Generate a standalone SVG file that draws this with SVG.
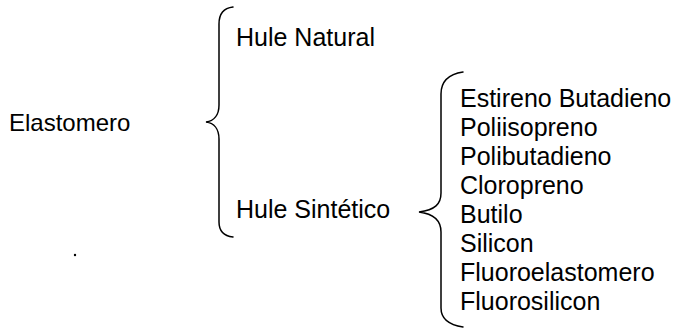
<svg xmlns="http://www.w3.org/2000/svg" width="677" height="329" viewBox="0 0 677 329">
<style>
text{font-family:"Liberation Sans",Arial,sans-serif;font-size:25px;fill:#000}
.brace{fill:none;stroke:#000;stroke-width:1.5;stroke-linecap:round}
</style>
<rect width="677" height="329" fill="#fff"/>
<g id="elastomero"><text x="9" y="131" style="font-size:24px">Elastomero</text></g>
<g id="hule-natural"><text x="236" y="46">Hule Natural</text></g>
<g id="hule-sintetico"><text x="236" y="218">Hule Sintético</text></g>
<g id="sinteticos">
<text x="460" y="107">Estireno Butadieno</text>
<text x="460" y="136">Poliisopreno</text>
<text x="460" y="165">Polibutadieno</text>
<text x="460" y="194">Cloropreno</text>
<text x="460" y="223">Butilo</text>
<text x="460" y="252">Silicon</text>
<text x="460" y="281">Fluoroelastomero</text>
<text x="460" y="310">Fluorosilicon</text>
</g>
<g id="connectors">
<path class="brace" d="M233,7 C224,8 219,14 219,24 L219,105 C219,115 214,121 206,122 C214,123 219,129 219,139 L219,222 C219,231 224,236 233,237"/>
<path class="brace" d="M463,72 C450,74 441,81 441,94 L441,193 C441,204 435,210 419,212 C435,214 441,221 441,232 L441,308 C441,319 450,325 463,327"/>
</g>
<circle cx="75" cy="255" r="1.2" fill="#000"/>
</svg>
